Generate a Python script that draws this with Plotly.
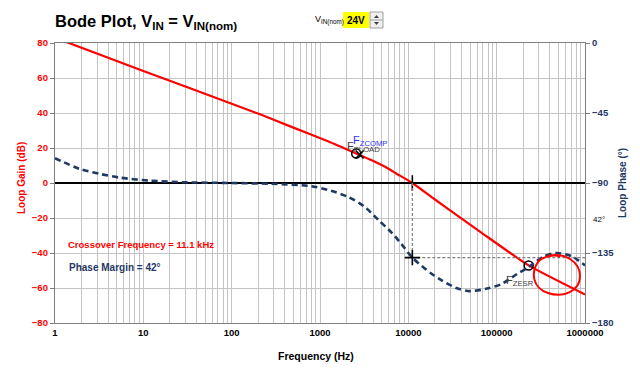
import plotly.graph_objects as go

# ---------------- data ----------------
gain_freq = [1, 10, 100, 213, 508, 1230, 2570, 3800, 5900, 7200, 11100, 19500, 35000, 67000, 230000, 1000000]
gain_db = [83, 64, 45.3, 39.1, 31.5, 23.9, 16.9, 13.1, 8.3, 5.6, 0, -9.0, -18.2, -28.3, -47.1, -63.7]

phase_freq = [1, 1.92, 3.25, 5.5, 12, 28, 97, 277, 790, 1330, 2090, 3150, 4530, 6500, 9000,
              11100, 18000, 23600, 35000, 49400, 76000, 113000, 170000, 230000, 330000, 470000,
              700000, 1000000]
phase_deg = [-74.1, -81, -84.2, -86.6, -88.5, -89.5, -90, -90.5, -92, -95, -99, -105, -113.5, -122,
             -131.5, -138, -148, -152.4, -157.5, -159.5, -158, -155, -148.5, -144, -137.6, -135,
             -137, -143]

crossover_hz = 11100
phase_margin = 42
fpload_hz, fpload_db = 2570, 16.9
fpload_x_hz = 2810
fzesr_hz, fzesr_db = 230000, -47.1

x_tick_labels = ["1", "10", "100", "1000", "10000", "100000", "1000000"]
gain_ticks = [80, 60, 40, 20, 0, -20, -40, -60, -80]
phase_ticks = [0, -45, -90, -135, -180]

RED = "#FF0000"
NAVY = "#1F3864"
FONT = "Arial"

# page has an 8px body margin; figure is sized so the window is filled exactly
OFF = 8
FIG_W, FIG_H = 640 - 2 * OFF, 370 - 2 * OFF
# plot-area geometry in window pixels (used only for decorations)
L, R, T, B = 55, 585, 43, 323
def px(x):
    return (x - L) / (R - L)
def py(y):
    return (B - y) / (B - T)

phase_at_cross = -180 + phase_margin

fig = go.Figure()

fig.add_trace(go.Scatter(x=gain_freq, y=gain_db, mode="lines",
                         line=dict(color=RED, width=2.2, shape="spline", smoothing=0.5),
                         yaxis="y", hoverinfo="skip", showlegend=False))
fig.add_trace(go.Scatter(x=phase_freq, y=phase_deg, mode="lines",
                         line=dict(color=NAVY, width=2.6, dash="6px,4px", shape="spline", smoothing=0.8),
                         yaxis="y2", hoverinfo="skip", showlegend=False))
fig.add_trace(go.Scatter(x=[crossover_hz, crossover_hz], y=[-90, phase_at_cross], mode="lines",
                         line=dict(color="#808080", width=1.2, dash="3px,2px"), yaxis="y2", showlegend=False, hoverinfo="skip"))
fig.add_trace(go.Scatter(x=[crossover_hz, 1000000], y=[phase_at_cross, phase_at_cross], mode="lines",
                         line=dict(color="#808080", width=1.2, dash="3px,2px"), yaxis="y2", showlegend=False, hoverinfo="skip"))
fig.add_trace(go.Scatter(x=[crossover_hz], y=[0], mode="markers", yaxis="y",
                         marker=dict(symbol="cross-thin", size=11, line=dict(color="black", width=1.6)), showlegend=False, hoverinfo="skip"))
fig.add_trace(go.Scatter(x=[crossover_hz], y=[phase_at_cross], mode="markers", yaxis="y2",
                         marker=dict(symbol="cross-thin", size=11, line=dict(color="black", width=1.6)), showlegend=False, hoverinfo="skip"))
fig.add_trace(go.Scatter(x=[fpload_hz, fzesr_hz], y=[fpload_db, fzesr_db], mode="markers", yaxis="y",
                         marker=dict(symbol="circle-open", size=9, color="black", line=dict(width=1.5)), showlegend=False, hoverinfo="skip"))
fig.add_trace(go.Scatter(x=[fpload_x_hz], y=[fpload_db - 0.6], mode="markers", yaxis="y",
                         marker=dict(symbol="x-thin", size=8, line=dict(color="black", width=1.6)), showlegend=False, hoverinfo="skip"))

tickvals, ticktext = [], []
for d in range(7):
    for m in range(1, 10):
        if d == 6 and m > 1:
            break
        tickvals.append(m * 10 ** d)
        ticktext.append(x_tick_labels[d] if m == 1 else "")

fig.update_layout(
    width=FIG_W, height=FIG_H, autosize=False,
    paper_bgcolor="white", plot_bgcolor="white",
    margin=dict(l=L - OFF, r=640 - R - OFF, t=T - OFF, b=370 - B - OFF, pad=0),
    font=dict(family=FONT, size=10, color="black"),
    xaxis=dict(type="log", range=[0, 6], tickvals=tickvals, ticktext=ticktext,
               showgrid=True, gridcolor="#C4C4C4", gridwidth=1.4,
               showline=True, linecolor="#7F7F7F", linewidth=1.3, mirror=True,
               ticks="", tickfont=dict(family=FONT, size=9.5, color="black", weight=700)),
    yaxis=dict(range=[-80, 80], tickvals=gain_ticks, showgrid=True, gridcolor="#C4C4C4", gridwidth=1.4,
               zeroline=True, zerolinecolor="black", zerolinewidth=2,
               showline=True, linecolor="#7F7F7F", linewidth=1.3, ticks="outside", ticklen=4, tickcolor="#7F7F7F",
               tickfont=dict(family=FONT, size=9.5, color=RED, weight=700)),
    yaxis2=dict(range=[-180, 0], tickvals=phase_ticks, overlaying="y", side="right", showgrid=False, zeroline=False,
                showline=True, linecolor="#7F7F7F", linewidth=1.3, ticks="outside", ticklen=4, tickcolor="#7F7F7F",
                tickfont=dict(family=FONT, size=9.5, color=NAVY, weight=700)),
)

ann = []
def add_text(text, x, y, size=10, color="black", xanchor="left", yanchor="middle", angle=0, bold=True):
    ann.append(dict(text=("<b>%s</b>" % text) if bold else text, x=x, y=y, xref="paper", yref="paper",
                    showarrow=False, xanchor=xanchor, yanchor=yanchor, textangle=angle,
                    font=dict(family=FONT, size=size, color=color)))

add_text("Bode Plot, V<sub>IN</sub> = V<sub>IN(nom)</sub>", px(53), py(22), size=16.5)
add_text("Loop Gain (dB)", px(21), py(178), size=10, color=RED, xanchor="center", angle=-90)
add_text("Loop Phase (°)", px(622), py(183), size=10, color=NAVY, xanchor="center", angle=-90)
add_text("Frequency (Hz)", px(316), py(356), size=10.5, xanchor="center")
add_text("Crossover Frequency = %.1f kHz" % (crossover_hz / 1000), px(66), py(244), size=9.5, color=RED)
add_text("Phase Margin = %d°" % phase_margin, px(67), py(267), size=10, color=NAVY)
add_text("%d°" % phase_margin, px(591), py(219), size=8, bold=False)
add_text("F<sub>PLOAD</sub>", px(345), py(147), size=11, color="#404040", bold=False)
add_text("F<sub>ZCOMP</sub>", px(351), py(141), size=11, color="#2F2FFF", bold=False)
add_text("F<sub>ZESR</sub>", px(504), py(281), size=11, color="#404040", bold=False)
add_text("V<sub>IN(nom)</sub>", px(313), py(20), size=9, bold=False)
add_text("24V", px(345), py(20), size=10)
fig.update_layout(annotations=ann)

shapes = [
    dict(type="rect", xref="paper", yref="paper", x0=px(343), x1=px(369), y0=py(12), y1=py(28),
         line=dict(width=0), fillcolor="#FFFF00", layer="below"),
    dict(type="rect", xref="paper", yref="paper", x0=px(370), x1=px(383), y0=py(12), y1=py(28),
         line=dict(color="#A0A0A0", width=1), fillcolor="#F0F0F0"),
    dict(type="line", xref="paper", yref="paper", x0=px(370), x1=px(383), y0=py(20), y1=py(20),
         line=dict(color="#A0A0A0", width=1)),
    dict(type="path", xref="paper", yref="paper",
         path="M %f,%f L %f,%f L %f,%f Z" % (px(374), py(18), px(379), py(18), px(376.5), py(15)),
         fillcolor="#404040", line=dict(width=0)),
    dict(type="path", xref="paper", yref="paper",
         path="M %f,%f L %f,%f L %f,%f Z" % (px(374), py(22), px(379), py(22), px(376.5), py(25)),
         fillcolor="#404040", line=dict(width=0)),
    dict(type="path", xref="paper", yref="paper",
         path="M %f,%f C %f,%f %f,%f %f,%f C %f,%f %f,%f %f,%f C %f,%f %f,%f %f,%f C %f,%f %f,%f %f,%f" % (
             px(548), py(256),
             px(565), py(252), px(580), py(262), px(580), py(276),
             px(580), py(292), px(562), py(298), px(548), py(293),
             px(532), py(288), px(531), py(272), px(538), py(262),
             px(543), py(256), px(556), py(254), px(560), py(257)),
         line=dict(color=RED, width=2)),
]
fig.update_layout(shapes=shapes)

fig.write_html("out.html")
